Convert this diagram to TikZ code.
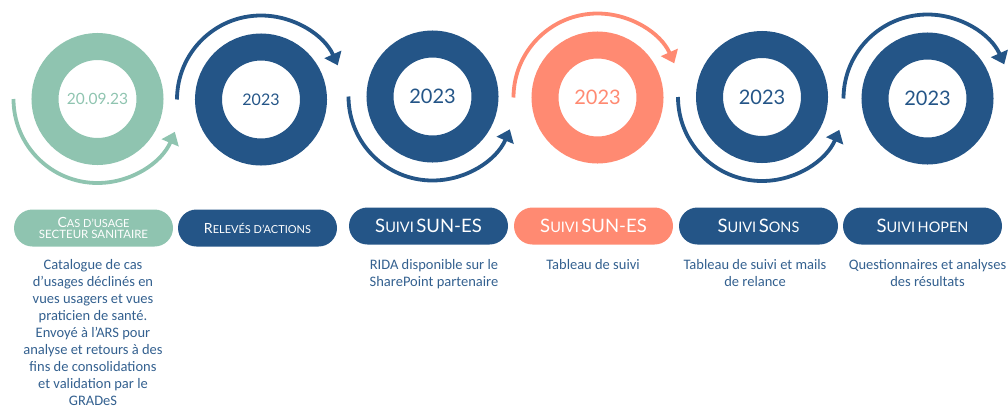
\documentclass[tikz,border=0pt]{standalone}
\usepackage{fontspec}
\setmainfont{Carlito}
\newfontfamily\numfont{Lato}
\usetikzlibrary{arrows.meta}
\definecolor{cgreen}{HTML}{8FC4B0}
\definecolor{cblue}{HTML}{245587}
\definecolor{csalmon}{HTML}{FF8A72}
\definecolor{ctext}{HTML}{33608F}
\newcommand\capA[1]{{\fontsize{14}{14}\selectfont #1}}
\newcommand\capB[1]{{\fontsize{11}{11}\selectfont #1}}
\newcommand\capC[1]{{\fontsize{18.5}{18.5}\selectfont #1}}
\newcommand\capD[1]{{\fontsize{14.5}{14.5}\selectfont #1}}
\begin{document}
\begin{tikzpicture}[x=1pt,y=-1pt,
  ring/.style={circle, draw, line width=27pt, minimum size=105pt, inner sep=0pt,
    font=\numfont\fontsize{20}{20}\selectfont},
  loop/.style={line width=3.8pt, -{Triangle[length=12pt,width=18pt]}},
  pill/.style={rounded corners=18.5pt, minimum width=159pt, minimum height=37pt,
    inner sep=0pt, text=white, font=\numfont, align=center},
  desc/.style={align=center, text=ctext, anchor=north,
    font=\fontsize{14.5}{17}\selectfont}]
\useasboundingbox (0,0) rectangle (1008,408);
% rings
\node[ring, draw=cgreen, text=cgreen, font=\numfont\fontsize{15.5}{15.5}\selectfont] (c1) at (97.5,99) {20.09.23};
\node[ring, draw=cblue, text=cblue, font=\numfont\fontsize{16}{16}\selectfont] (c2) at (261,99.5) {2023};
\node[ring, draw=cblue, text=cblue] (c3) at (432.5,96.5) {2023};
\node[ring, draw=csalmon, text=csalmon] (c4) at (597.5,97.5) {2023};
\node[ring, draw=cblue, text=cblue] (c5) at (762,97) {2023};
\node[ring, draw=cblue, text=cblue] (c6) at (927.5,98.5) {2023};
% circular arrows
\draw[loop, cgreen] (c1.center) ++(-84,0) arc[start angle=-180, end angle=-337, radius=84];
\draw[loop, cblue] (c2.center) ++(-84,0) arc[start angle=-180, end angle=-24, radius=84];
\draw[loop, cblue] (c3.center) ++(-84,0) arc[start angle=-180, end angle=-337, radius=84];
\draw[loop, csalmon] (c4.center) ++(-84,0) arc[start angle=-180, end angle=-24, radius=84];
\draw[loop, cblue] (c5.center) ++(-84,0) arc[start angle=-180, end angle=-337, radius=84];
\draw[loop, cblue] (c6.center) ++(-84,0) arc[start angle=-180, end angle=-24, radius=84];
% pills
\node[pill, fill=cgreen] (p1) at (93.5,228) {\capA{C}\capB{AS D’USAGE}\\[-1pt]{\fontsize{11.5}{11.5}\selectfont SECTEUR SANITAIRE}};
\node[pill, fill=cblue] (p2) at (257.5,228) {\capA{R}\capB{ELEVÉS D’ACTIONS}};
\node[pill, fill=cblue] (p3) at (428.5,226) {\capC{S}\capD{UIVI} \capC{SUN-ES}};
\node[pill, fill=csalmon] (p4) at (593.5,226) {\capC{S}\capD{UIVI} \capC{SUN-ES}};
\node[pill, fill=cblue] (p5) at (758.5,226) {\capC{S}\capD{UIVI} \capC{S}\capD{ONS}};
\node[pill, fill=cblue] (p6) at (922.5,226) {\capC{S}\capD{UIVI} \capD{HOPEN}};
% descriptions
\node[desc] (d1) at (93,256) {Catalogue de cas\\d’usages déclinés en\\vues usagers et vues\\praticien de santé.\\Envoyé à l’ARS pour\\analyse et retours à des\\fins de consolidations\\et validation par le\\GRADeS};
\node[desc] (d3) at (434,256) {RIDA disponible sur le\\SharePoint partenaire};
\node[desc] (d4) at (593,256) {Tableau de suivi};
\node[desc] (d5) at (755,256) {Tableau de suivi et mails\\de relance};
\node[desc] (d6) at (927.5,256) {Questionnaires et analyses\\des résultats};
\end{tikzpicture}
\end{document}
